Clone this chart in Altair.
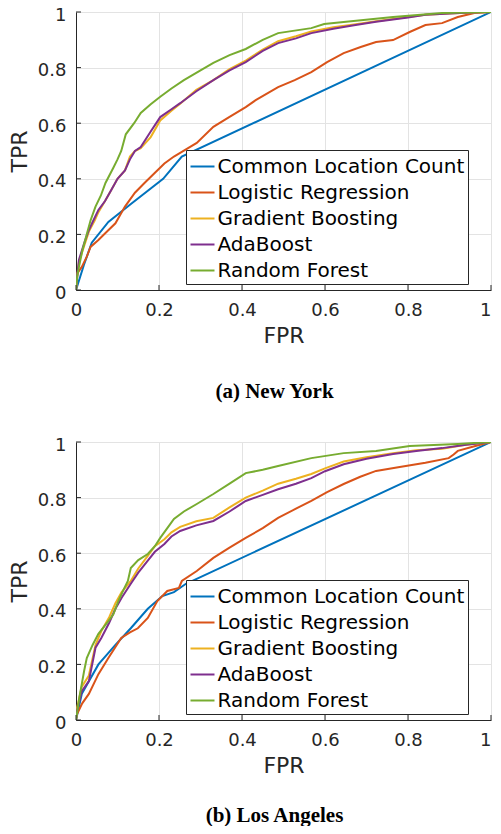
import altair as alt
import pandas as pd

SERIES = ["Common Location Count", "Logistic Regression", "Gradient Boosting", "AdaBoost", "Random Forest"]
COLORS = ["#0072BD", "#D95319", "#EDB120", "#7E2F8E", "#77AC30"]
TICKS = [0, 0.2, 0.4, 0.6, 0.8, 1]
CAPTIONS = ["(a) New York", "(b) Los Angeles"]

# ---------------- New York ----------------
ny_clc_fpr = [0, 0.019, 0.038, 0.078, 0.133, 0.21, 0.255, 1]
ny_clc_tpr = [0, 0.09, 0.17, 0.245, 0.31, 0.40, 0.48, 1]

ny_lr_fpr = [0, 0.003, 0.014, 0.026, 0.035, 0.054, 0.071, 0.095, 0.118, 0.142, 0.165, 0.189, 0.213,
             0.236, 0.255, 0.291, 0.331, 0.369, 0.409, 0.433, 0.487, 0.527, 0.567, 0.605, 0.645,
             0.686, 0.723, 0.764, 0.804, 0.842, 0.882, 0.92, 0.96, 1]
ny_lr_tpr = [0, 0.06, 0.083, 0.12, 0.155, 0.18, 0.205, 0.24, 0.30, 0.35, 0.385, 0.42, 0.455,
             0.48, 0.497, 0.529, 0.587, 0.622, 0.658, 0.683, 0.73, 0.755, 0.784, 0.82, 0.852,
             0.874, 0.892, 0.899, 0.928, 0.953, 0.96, 0.982, 0.996, 1]

ny_gb_fpr = [0, 0.003, 0.007, 0.02, 0.031, 0.045, 0.054, 0.07, 0.085, 0.1, 0.118, 0.13, 0.142, 0.156,
             0.18, 0.203, 0.23, 0.251, 0.29, 0.331, 0.37, 0.409, 0.45, 0.487, 0.53, 0.567, 0.62,
             0.67, 0.723, 0.8, 0.842, 0.9, 0.95, 1]
ny_gb_tpr = [0, 0.05, 0.10, 0.16, 0.21, 0.25, 0.28, 0.32, 0.36, 0.40, 0.43, 0.48, 0.50, 0.51,
             0.55, 0.61, 0.645, 0.67, 0.72, 0.755, 0.795, 0.825, 0.865, 0.895, 0.913, 0.93, 0.945,
             0.955, 0.967, 0.982, 0.99, 0.995, 0.998, 1]

ny_ada_fpr = [0, 0.003, 0.007, 0.02, 0.031, 0.045, 0.054, 0.07, 0.085, 0.1, 0.118, 0.13, 0.142, 0.156,
              0.18, 0.203, 0.23, 0.251, 0.29, 0.331, 0.37, 0.409, 0.45, 0.487, 0.53, 0.567, 0.62,
              0.67, 0.723, 0.8, 0.842, 0.9, 0.95, 1]
ny_ada_tpr = [0, 0.05, 0.108, 0.17, 0.216, 0.26, 0.288, 0.32, 0.36, 0.40, 0.43, 0.47, 0.50, 0.514,
              0.57, 0.622, 0.65, 0.672, 0.715, 0.755, 0.79, 0.82, 0.86, 0.888, 0.905, 0.924, 0.94,
              0.952, 0.965, 0.98, 0.99, 0.995, 0.998, 1]

ny_rf_fpr = [0, 0.003, 0.007, 0.015, 0.024, 0.035, 0.047, 0.06, 0.071, 0.09, 0.1, 0.109, 0.12, 0.14,
             0.156, 0.18, 0.203, 0.23, 0.26, 0.3, 0.331, 0.37, 0.409, 0.45, 0.487, 0.567, 0.598,
             0.645, 0.764, 0.882, 1]
ny_rf_tpr = [0, 0.05, 0.083, 0.14, 0.19, 0.25, 0.30, 0.34, 0.385, 0.44, 0.47, 0.50, 0.56, 0.60,
             0.637, 0.668, 0.695, 0.725, 0.755, 0.79, 0.817, 0.845, 0.867, 0.9, 0.924, 0.942, 0.957,
             0.964, 0.982, 0.996, 1]

# ---------------- Los Angeles ----------------
la_clc_fpr = [0, 0.014, 0.054, 0.095, 0.132, 0.173, 0.208, 0.236, 0.265, 1]
la_clc_tpr = [0, 0.094, 0.20, 0.27, 0.33, 0.40, 0.446, 0.46, 0.49, 1]

la_lr_fpr = [0, 0.002, 0.015, 0.031, 0.054, 0.078, 0.109, 0.13, 0.149, 0.173, 0.196, 0.22, 0.248,
             0.255, 0.291, 0.331, 0.369, 0.409, 0.45, 0.487, 0.53, 0.567, 0.605, 0.645, 0.685,
             0.723, 0.78, 0.842, 0.898, 0.91, 0.92, 0.96, 1]
la_lr_tpr = [0, 0.02, 0.06, 0.094, 0.165, 0.223, 0.295, 0.315, 0.33, 0.367, 0.428, 0.464, 0.475,
             0.50, 0.536, 0.583, 0.619, 0.655, 0.69, 0.727, 0.76, 0.788, 0.82, 0.849, 0.875,
             0.896, 0.91, 0.925, 0.942, 0.955, 0.968, 0.985, 1]

la_gb_fpr = [0, 0.002, 0.014, 0.031, 0.047, 0.061, 0.08, 0.095, 0.11, 0.132, 0.15, 0.173, 0.19, 0.213,
             0.23, 0.251, 0.29, 0.331, 0.37, 0.409, 0.45, 0.487, 0.53, 0.567, 0.6, 0.645, 0.7, 0.764,
             0.82, 0.882, 0.94, 1]
la_gb_tpr = [0, 0.04, 0.12, 0.16, 0.27, 0.32, 0.37, 0.42, 0.46, 0.50, 0.545, 0.59, 0.625, 0.65,
             0.675, 0.695, 0.715, 0.727, 0.765, 0.80, 0.825, 0.85, 0.868, 0.885, 0.905, 0.93, 0.945,
             0.96, 0.97, 0.976, 0.99, 1]

la_ada_fpr = [0, 0.002, 0.014, 0.031, 0.047, 0.061, 0.08, 0.095, 0.11, 0.132, 0.15, 0.173, 0.19, 0.213,
              0.23, 0.251, 0.29, 0.331, 0.37, 0.409, 0.45, 0.487, 0.53, 0.567, 0.6, 0.645, 0.7, 0.764,
              0.82, 0.882, 0.94, 1]
la_ada_tpr = [0, 0.03, 0.104, 0.14, 0.26, 0.295, 0.35, 0.40, 0.44, 0.49, 0.53, 0.573, 0.605, 0.633,
              0.66, 0.68, 0.70, 0.716, 0.75, 0.788, 0.81, 0.83, 0.85, 0.87, 0.895, 0.92, 0.94, 0.957,
              0.968, 0.978, 0.99, 1]

la_rf_fpr = [0, 0.002, 0.008, 0.014, 0.02, 0.026, 0.04, 0.054, 0.078, 0.09, 0.102, 0.115, 0.125, 0.132,
             0.15, 0.173, 0.19, 0.203, 0.22, 0.236, 0.26, 0.291, 0.331, 0.37, 0.409, 0.45, 0.487,
             0.567, 0.645, 0.723, 0.804, 0.92, 1]
la_rf_tpr = [0, 0.02, 0.08, 0.13, 0.18, 0.223, 0.27, 0.31, 0.356, 0.38, 0.428, 0.47, 0.50, 0.547,
             0.575, 0.597, 0.625, 0.655, 0.69, 0.723, 0.75, 0.777, 0.813, 0.85, 0.888, 0.90, 0.914,
             0.942, 0.96, 0.968, 0.986, 0.993, 1]

NY = [(ny_clc_fpr, ny_clc_tpr), (ny_lr_fpr, ny_lr_tpr), (ny_gb_fpr, ny_gb_tpr),
      (ny_ada_fpr, ny_ada_tpr), (ny_rf_fpr, ny_rf_tpr)]
LA = [(la_clc_fpr, la_clc_tpr), (la_lr_fpr, la_lr_tpr), (la_gb_fpr, la_gb_tpr),
      (la_ada_fpr, la_ada_tpr), (la_rf_fpr, la_rf_tpr)]

W, H = 415, 278
AXC = "#262626"
SANS = "DejaVu Sans"


def panel(curves, caption, cap_offset):
    rows = []
    for name, (fx, ty) in zip(SERIES, curves):
        for j, (a, b) in enumerate(zip(fx, ty)):
            rows.append({"series": name, "idx": j, "fpr": a, "tpr": b})
    df = pd.DataFrame(rows)

    xenc = alt.X("fpr:Q", scale=alt.Scale(domain=[0, 1], nice=False, zero=False),
                 axis=alt.Axis(values=TICKS, title="FPR", format="~g", grid=True,
                               gridColor="#e3e3e3", domainColor=AXC, ticks=False,
                               labelFont=SANS, labelFontSize=18, labelColor=AXC, labelPadding=11,
                               labelAlign={"condition": {"test": "datum.value >= 1", "value": "right"},
                                           "value": "center"},
                               titleFont=SANS, titleFontSize=22, titleFontWeight="normal",
                               titleColor=AXC, titlePadding=6))
    yenc = alt.Y("tpr:Q", scale=alt.Scale(domain=[0, 1], nice=False, zero=False),
                 axis=alt.Axis(values=TICKS, title="TPR", format="~g", grid=True,
                               gridColor="#e3e3e3", domainColor=AXC, ticks=False,
                               labelFont=SANS, labelFontSize=18, labelColor=AXC, labelPadding=10,
                               labelOffset=3,
                               titleFont=SANS, titleFontSize=22, titleFontWeight="normal",
                               titleColor=AXC, titlePadding=6))
    color = alt.Color("series:N", scale=alt.Scale(domain=SERIES, range=COLORS),
                      legend=alt.Legend(orient="none", legendX=110, legendY=138, title=None,
                                        direction="vertical", symbolType="stroke",
                                        symbolSize=576, symbolStrokeWidth=2,
                                        labelFont=SANS, labelFontSize=20, labelColor="black",
                                        labelOffset=2, labelLimit=600, padding=3.5, rowPadding=3,
                                        strokeColor=AXC, fillColor="white"))

    layers = []
    for name in SERIES:
        layers.append(
            alt.Chart(df).transform_filter(alt.datum.series == name)
            .mark_line(strokeWidth=2, clip=True)
            .encode(x=xenc, y=yenc, color=color, order="idx:Q")
        )
    tick_df_x = pd.DataFrame({"fpr": TICKS})
    tick_df_y = pd.DataFrame({"tpr": TICKS})
    xt = alt.Chart(tick_df_x).mark_rule(color=AXC, strokeWidth=1).encode(
        x=alt.X("fpr:Q"), y=alt.value(H), y2=alt.value(H - 5))
    yt = alt.Chart(tick_df_y).mark_rule(color=AXC, strokeWidth=1).encode(
        y=alt.Y("tpr:Q"), x=alt.value(0), x2=alt.value(5))

    return alt.layer(*layers, xt, yt).properties(
        width=W, height=H,
        title=alt.TitleParams(caption, orient="bottom", anchor="middle", font="Liberation Serif",
                              fontSize=21, fontWeight="bold", color="black", offset=cap_offset, dx=-9),
    )


chart = alt.vconcat(panel(NY, CAPTIONS[0], 35), panel(LA, CAPTIONS[1], 29), spacing=34).resolve_scale(
    color="independent").resolve_legend(color="independent").properties(
    padding={"top": -2, "left": 0, "right": 0, "bottom": 0}
).configure_view(stroke=None)

chart.save("out.html", embed_options={"renderer": "svg", "actions": False})
